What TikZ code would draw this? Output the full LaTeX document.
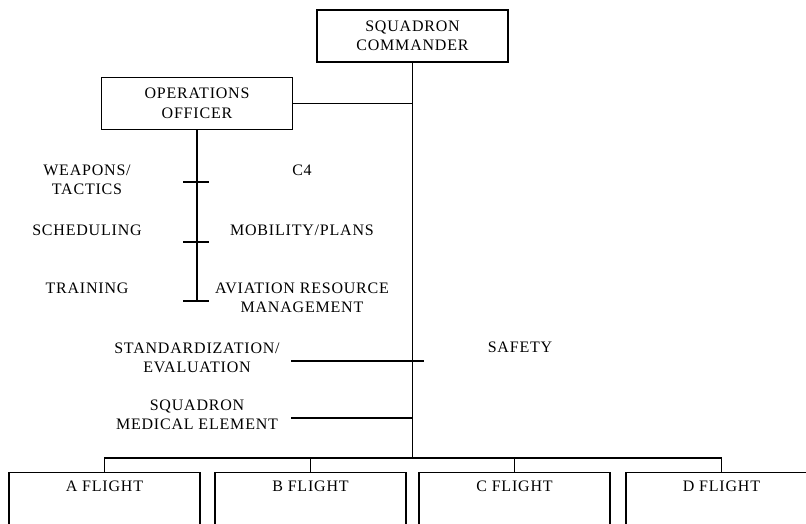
\documentclass[tikz,border=0pt]{standalone}
\usepackage{fontspec}
\setmainfont[LetterSpace=5]{Liberation Serif}
\usetikzlibrary{positioning}
\tikzset{box/.style={draw, line width=1.2pt, align=center, minimum width=191pt, minimum height=52pt},
         flight/.style={draw, line width=1.2pt, anchor=north, minimum width=191pt, text height=16pt, text depth=70pt},
         lbl/.style={align=center, inner sep=0pt}}

\begin{document}
\begin{tikzpicture}[x=1pt,y=-1pt,font=\fontsize{16}{19.5}\selectfont]
    \useasboundingbox (0,0) rectangle (806,523);
    \clip (0,0) rectangle (806,523);
        \node[box] (cmdr) at (412.5,36) {SQUADRON\\COMMANDER};
        \node[box] (ops) at (197,103.5) {OPERATIONS\\OFFICER};
        \node[lbl] (weap) at (87,180) {WEAPONS/\\TACTICS};
        \node[lbl] (cfour) at (302,170) {C4};
        \node[lbl] (sched) at (87,230) {SCHEDULING};
        \node[lbl] (mobil) at (302,230) {MOBILITY/PLANS};
        \node[lbl] (train) at (87,288) {TRAINING};
        \node[lbl] (avres) at (302,298) {AVIATION RESOURCE\\MANAGEMENT};
        \node[lbl] (stan) at (197,358) {STANDARDIZATION/\\EVALUATION};
        \node[lbl] (safe) at (520,347) {SAFETY};
        \node[lbl] (med) at (197,415) {SQUADRON\\MEDICAL ELEMENT};
        \node[flight] (fa) at (104.5,472) {A FLIGHT};
        \node[flight] (fb) at (310.5,472) {B FLIGHT};
        \node[flight] (fc) at (514.5,472) {C FLIGHT};
        \node[flight] (fd) at (721.5,472) {D FLIGHT};
        \coordinate (opsend) at (197,301);
        \coordinate (bar) at (412.5,458);
        \coordinate (stanl) at (291,361);
        \coordinate (stanr) at (424,361);
        \coordinate (medl) at (291,418);
     \draw[line width=1.2pt] (cmdr.south) -- (bar)
                    (ops.east) -- (ops.east -| cmdr.south)
                    (ops.south) -- (opsend)
                    (183,182) -- (209,182)
                    (183,242) -- (209,242)
                    (183,301) -- (209,301)
                    (stanl) -- (stanr)
                    (medl) -- (medl -| cmdr.south);
     \draw[line width=1.2pt] (fa.north) |- (bar) -| (fd.north)
                    (fb.north) -- (fb.north |- bar)
                    (fc.north) -- (fc.north |- bar);
    \end{tikzpicture}
\end{document}
